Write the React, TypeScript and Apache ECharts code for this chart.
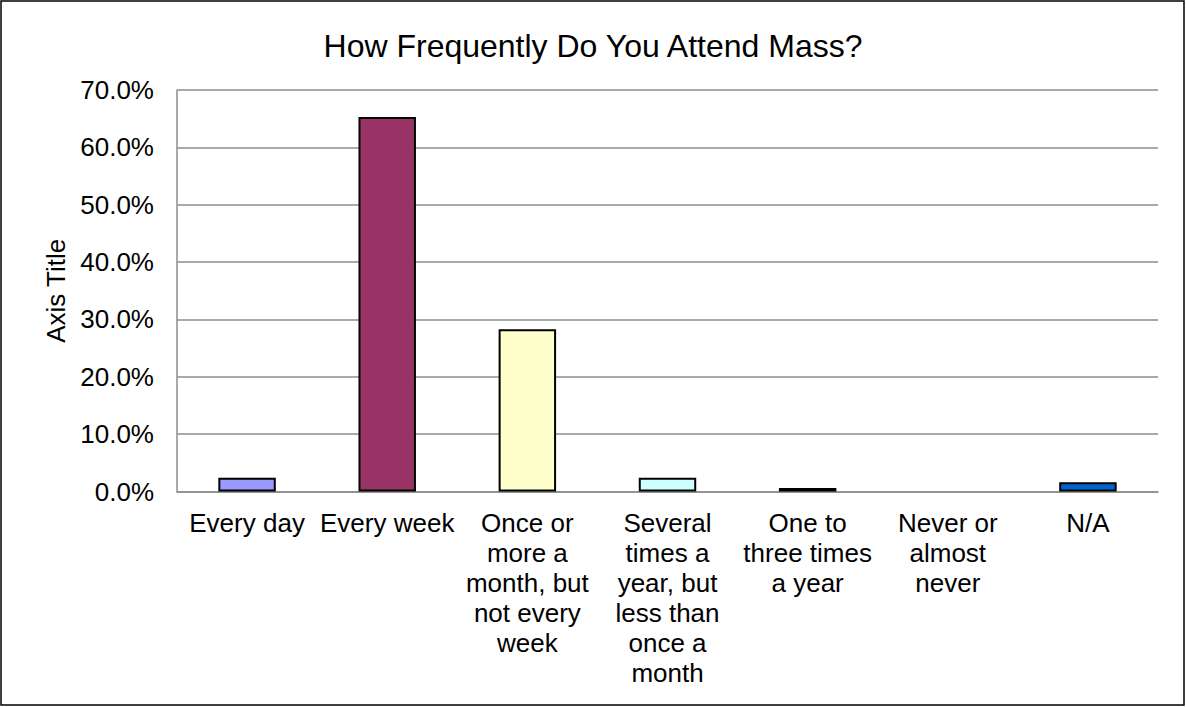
import React, { useEffect, useRef } from "react";
import * as echarts from "echarts";

const titleText = "How Frequently Do You Attend Mass?";
const yAxisTitle = "Axis Title";
const categories = [
  "Every day",
  "Every week",
  "Once or\nmore a\nmonth, but\nnot every\nweek",
  "Several\ntimes a\nyear, but\nless than\nonce a\nmonth",
  "One to\nthree times\na year",
  "Never or\nalmost\nnever",
  "N/A",
];
const values = [2.4, 65.3, 28.3, 2.4, 0.6, 0, 1.6];
const barColors = ["#9999FF", "#993366", "#FFFFCC", "#CCFFFF", "#660066", "#FF8080", "#0066CC"];
const yMin = 0;
const yMax = 70;
const yInterval = 10;

const FONT = "'Liberation Sans', Arial, sans-serif";

export default function App() {
  const ref = useRef<HTMLDivElement>(null);
  useEffect(() => {
    if (!ref.current) return;
    const chart = echarts.init(ref.current, null, { renderer: "svg" });
    chart.setOption({
      animation: false,
      backgroundColor: "#ffffff",
      textStyle: { fontFamily: FONT },
      title: {
        text: titleText,
        left: "center",
        top: 25,
        textStyle: { fontFamily: FONT, fontSize: 32, fontWeight: "normal", color: "#000" },
      },
      grid: { left: 177, right: 28, top: 90, bottom: 215.5, containLabel: false },
      xAxis: {
        type: "category",
        data: categories,
        axisLine: { show: true, lineStyle: { color: "#8c8c8c", width: 1.5 } },
        axisTick: { show: false },
        axisLabel: {
          interval: 0,
          margin: 16,
          color: "#000",
          fontFamily: FONT,
          fontSize: 26,
          lineHeight: 30,
          align: "center",
          verticalAlign: "top",
        },
      },
      yAxis: {
        type: "value",
        min: yMin,
        max: yMax,
        interval: yInterval,
        name: yAxisTitle,
        nameLocation: "middle",
        nameGap: 108,
        nameRotate: 90,
        nameTextStyle: { fontFamily: FONT, fontSize: 26, color: "#000" },
        axisLine: { show: true, lineStyle: { color: "#8c8c8c", width: 1.5 } },
        axisTick: { show: false },
        splitLine: { show: true, lineStyle: { color: "#8c8c8c", width: 1.5 } },
        axisLabel: {
          margin: 23,
          color: "#000",
          fontFamily: FONT,
          fontSize: 26,
          formatter: (v: number) => v.toFixed(1) + "%",
        },
      },
      series: [
        {
          type: "bar",
          barWidth: "41%",
          data: values.map((v, i) => ({
            value: v,
            itemStyle: {
              color: barColors[i],
              borderColor: "#000",
              borderWidth: v === 0 ? 0 : 2,
              opacity: v === 0 ? 0 : 1,
            },
          })),
        },
      ],
      graphic: [
        {
          type: "rect",
          shape: { x: 1, y: 1, width: 1183, height: 704 },
          style: { fill: "none", stroke: "#000", lineWidth: 1.5 },
          silent: true,
        },
      ],
    });
    return () => chart.dispose();
  }, []);
  return (
    <div
      ref={ref}
      style={{ position: "fixed", left: 0, top: 0, width: 1186, height: 707 }}
    />
  );
}
